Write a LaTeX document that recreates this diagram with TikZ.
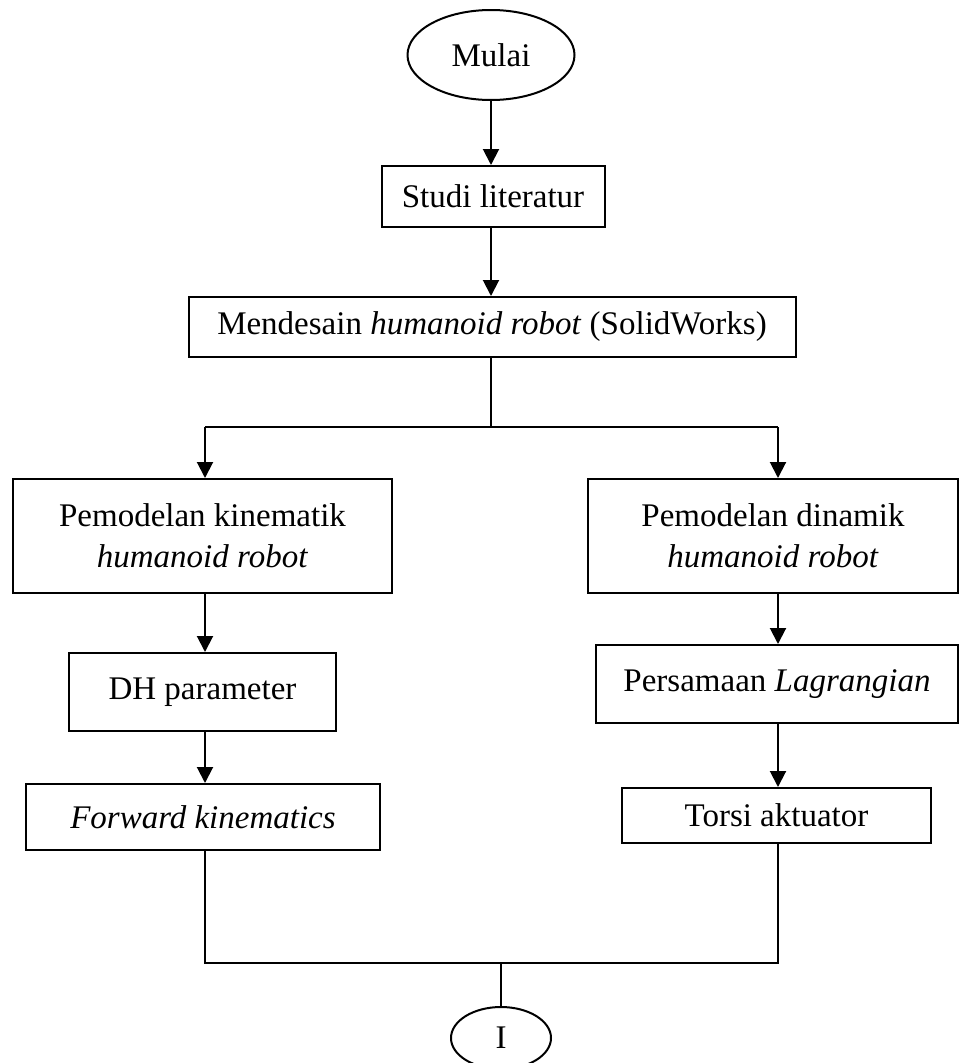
\documentclass[tikz,border=0pt]{standalone}
\usepackage{fontspec}
\setmainfont{Liberation Serif}
\usetikzlibrary{shapes.geometric,arrows.meta}
\begin{document}
\begin{tikzpicture}[x=1pt,y=-1pt,
  every node/.style={font=\fontsize{33}{41}\selectfont, inner sep=0pt, align=center},
  box/.style={draw, line width=2pt, rectangle},
  oval/.style={draw, line width=2pt, ellipse},
  arr/.style={line width=2pt, -{Triangle[length=16pt,width=16pt]}},
  ln/.style={line width=1.6pt}]
\useasboundingbox (0,0) rectangle (960,1063);
\node[oval, minimum width=167pt, minimum height=90pt] (mulai) at (491,55) {Mulai};
\node[box, minimum width=223pt, minimum height=61pt] (studi) at (493,196.5) {Studi literatur};
\node[box, minimum width=607pt, minimum height=60pt] (desain) at (492,327) {Mendesain \textit{humanoid robot} (SolidWorks)};
\node[box, minimum width=379pt, minimum height=114pt] (kin) at (202.5,536) {Pemodelan kinematik\\\textit{humanoid robot}};
\node[box, minimum width=370pt, minimum height=114pt] (din) at (773,536) {Pemodelan dinamik\\\textit{humanoid robot}};
\node[box, minimum width=267pt, minimum height=78pt] (dh) at (202.5,692) {DH parameter};
\node[box, minimum width=362pt, minimum height=78pt] (lag) at (777,684) {Persamaan \textit{Lagrangian}};
\node[box, minimum width=354pt, minimum height=66pt] (fwd) at (203,817) {\textit{Forward kinematics}};
\node[box, minimum width=309pt, minimum height=55pt] (tor) at (776.5,815.5) {Torsi aktuator};
\node[oval, minimum width=100pt, minimum height=62pt] (konektor) at (501,1038) {I};
\coordinate (colM) at (491,0);
\coordinate (colL) at (205,0);
\coordinate (colR) at (778,0);
\coordinate (split) at (491,427);
\coordinate (join) at (501,963);
\draw[arr] (mulai.south) -- (studi.north -| colM);
\draw[arr] (studi.south -| colM) -- (desain.north -| colM);
\draw[ln] (desain.south -| split) -- (split);
\draw[ln] (split) -- (split -| colL);
\draw[ln] (split) -- (split -| colR);
\draw[arr] (split -| colL) -- (kin.north -| colL);
\draw[arr] (split -| colR) -- (din.north -| colR);
\draw[arr] (kin.south -| colL) -- (dh.north -| colL);
\draw[arr] (dh.south -| colL) -- (fwd.north -| colL);
\draw[arr] (din.south -| colR) -- (lag.north -| colR);
\draw[arr] (lag.south -| colR) -- (tor.north -| colR);
\draw[ln] (fwd.south -| colL) -- (join -| colL) -- (join -| colR) -- (tor.south -| colR);
\draw[ln] (join) -- (konektor.north);
\end{tikzpicture}
\end{document}
